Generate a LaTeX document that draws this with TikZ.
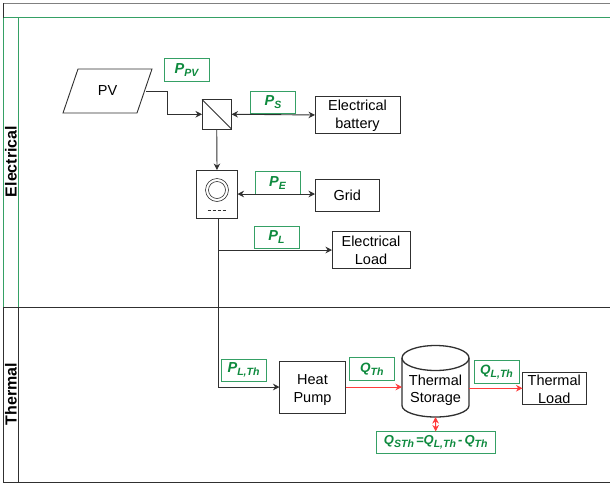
\documentclass[tikz,border=0pt]{standalone}
\usepackage{fontspec}
\setmainfont{Liberation Sans}
\usetikzlibrary{arrows.meta,calc}
\definecolor{lblgreen}{HTML}{0E8A3E}
\definecolor{lblborder}{HTML}{35A065}
\definecolor{linegray}{HTML}{303030}
\definecolor{heatred}{HTML}{FF3B3B}
\newcommand{\flowlbl}[3][14.5]{\fontsize{#1}{#1}\selectfont\bfseries\itshape #2\raisebox{-0.2em}{\fontsize{10.5}{10.5}\selectfont #3}}
\tikzset{
  x=1pt,y=-1pt,
  every node/.style={inner sep=0pt,outer sep=0pt},
  block/.style={draw=linegray,line width=0.9pt,fill=white,align=center,font=\fontsize{14.5}{17.5}\selectfont},
  flow/.style={draw=lblborder,line width=0.8pt,fill=white,text=lblgreen,minimum width=45pt,minimum height=22.5pt},
  lane/.style={rotate=90,font=\fontsize{16}{16}\selectfont\bfseries},
  wire/.style={draw=linegray,line width=0.9pt,-{Stealth[length=6.5pt,width=6.5pt]}},
  wirep/.style={draw=linegray,line width=0.9pt},
  biwire/.style={wire,{Stealth[length=6.5pt,width=6.5pt]}-{Stealth[length=6.5pt,width=6.5pt]}},
  heat/.style={draw=heatred,line width=0.9pt,-{Stealth[length=6.5pt,width=6.5pt]}},
  biheat/.style={heat,{Stealth[length=6.5pt,width=6.5pt]}-{Stealth[length=6.5pt,width=6.5pt]}},
  frameline/.style={draw=linegray,line width=0.9pt},
  greenline/.style={draw=lblborder,line width=0.8pt}
}
\begin{document}
\begin{tikzpicture}
\useasboundingbox (0,0) rectangle (610,485);
% swimlane frame
\draw[draw=gray,line width=0.9pt] (3.5,3) -- (610,3);
\draw[frameline] (3.5,3) -- (3.5,17.5);
\draw[greenline] (3.5,17.5) -- (610,17.5);
\draw[greenline] (3.5,17.5) -- (3.5,307);
\draw[greenline] (18.5,17.5) -- (18.5,307);
\draw[frameline] (3.5,307) -- (610,307);
\draw[frameline] (3.5,307) -- (3.5,482.5) -- (610,482.5);
\draw[frameline] (18.5,307) -- (18.5,482.5);
\node[lane] (laneE) at (11,161.5) {Electrical};
\node[lane] (laneT) at (11,394) {Thermal};
% components
\draw[block] (78,69) -- (152,69) -- (137,113) -- (63,113) -- cycle;
\node[minimum width=77pt,minimum height=44pt,font=\fontsize{14.5}{17.5}\selectfont] (pv) at (107.5,91) {PV};
\node[block,minimum width=29.5pt,minimum height=29.5pt] (conv) at (216.75,114.25) {};
\draw[wirep] (conv.north west) -- (conv.south east);
\node[block,minimum width=41pt,minimum height=48pt] (inv) at (217,194) {};
\draw[wirep,line width=0.6pt] ($(inv.center)+(0,-4)$) circle (11.5) circle (8.5);
\draw[wirep,line width=0.6pt,dash pattern=on 3pt off 2pt] ($(inv.center)+(-9.5,16)$) -- ($(inv.center)+(9.5,16)$);
\node[block,minimum width=85pt,minimum height=37pt] (batt) at (357.5,115) {\rule{0pt}{12.5pt}Electrical\\battery};
\node[block,minimum width=64.5pt,minimum height=32pt] (grid) at (347.25,195.5) {Grid};
\node[block,minimum width=78pt,minimum height=37pt] (eload) at (371,249.5) {\rule{0pt}{12.5pt}Electrical\\Load};
\node[block,minimum width=66pt,minimum height=52pt] (hp) at (312.5,387) {\rule{0pt}{15.5pt}Heat\\Pump};
\node[minimum width=67pt,minimum height=71.5pt] (tank) at (435.5,381.25) {};
\draw[block,line width=1.3pt] (tank.west |- 0,358) arc[start angle=180,end angle=0,x radius=33.5,y radius=-12.5]
  -- (tank.east |- 0,405.5) arc[start angle=0,end angle=-180,x radius=33.5,y radius=-11.5] -- cycle;
\draw[wirep,line width=1.3pt] (tank.west |- 0,358) arc[start angle=180,end angle=360,x radius=33.5,y radius=-12.5];
\node[align=center,font=\fontsize{14.5}{17.5}\selectfont] (tanktxt) at (435.5,390) {Thermal\\Storage};
\node[block,minimum width=63.5pt,minimum height=31.5pt] (tload) at (554.25,388.25) {\rule{0pt}{12.5pt}Thermal\\Load};
% flow labels
\node[flow] (ppv) at (186.5,70) {\flowlbl{P}{PV}};
\node[flow] (ps) at (273,102.25) {\flowlbl{P}{S}};
\node[flow] (pe) at (277.5,182.75) {\flowlbl{P}{E}};
\node[flow] (pl) at (276.5,237.25) {\flowlbl{P}{L}};
\node[flow] (plth) at (243.5,370.25) {\flowlbl{P}{L,Th}};
\node[flow] (qth) at (371.75,369) {\flowlbl[13.5]{Q}{Th}};
\node[flow] (qlth) at (496.5,371.75) {\flowlbl[13.5]{Q}{L,Th}};
\node[flow,minimum width=119.5pt,minimum height=22pt] (qsth) at (435.75,442.5) {\flowlbl[13]{Q}{STh}\,{\fontsize{13}{13}\selectfont\bfseries\itshape =}\flowlbl[13]{Q}{L,Th}{\fontsize{13}{13}\selectfont\bfseries\itshape\,-\,}\flowlbl[13]{Q}{Th}};
% connectors
\draw[wire] (pv.east) -- (167,91) -- (167,114.25) -- (conv.west);
\draw[biwire] (conv.east) -- (batt.west);
\draw[wire] (conv.south) -- (inv.north);
\draw[biwire] (inv.east) -- (grid.west |- inv.east);
\coordinate (bus) at (218,218);
\coordinate (tap) at (218,250);
\coordinate (hpcorner) at (218,387);
\draw[wirep] (bus) -- (hpcorner);
\draw[wire] (tap) -- (eload.west |- tap);
\draw[wire] (hpcorner) -- (hp.west);
\draw[heat] (hp.east) -- (tank.west |- hp.east);
\draw[heat] (tank.east |- tload.west) -- (tload.west);
\draw[biheat] (tank.south) -- (qsth.north);
\end{tikzpicture}
\end{document}
